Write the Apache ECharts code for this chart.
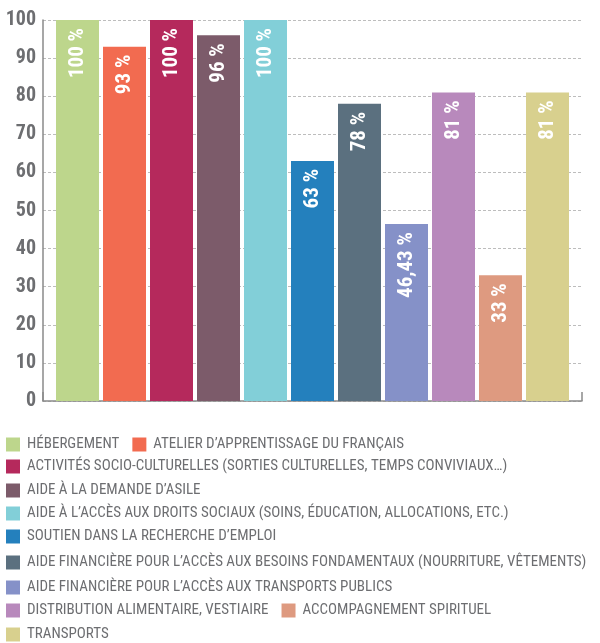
<!DOCTYPE html>
<html>
<head>
<meta charset="utf-8">
<script src="https://cdn.jsdelivr.net/npm/echarts@6/dist/echarts.min.js"></script>
<style>
  html, body { margin: 0; padding: 0; background: #fff; }
  #main { width: 600px; height: 643px; }
</style>
</head>
<body>
<div id="main"></div>
<script>
const categories = [
  'HÉBERGEMENT',
  'ATELIER D’APPRENTISSAGE DU FRANÇAIS',
  'ACTIVITÉS SOCIO-CULTURELLES (SORTIES CULTURELLES, TEMPS CONVIVIAUX…)',
  'AIDE À LA DEMANDE D’ASILE',
  'AIDE À L’ACCÈS AUX DROITS SOCIAUX (SOINS, ÉDUCATION, ALLOCATIONS, ETC.)',
  'SOUTIEN DANS LA RECHERCHE D’EMPLOI',
  'AIDE FINANCIÈRE POUR L’ACCÈS AUX BESOINS FONDAMENTAUX (NOURRITURE, VÊTEMENTS)',
  'AIDE FINANCIÈRE POUR L’ACCÈS AUX TRANSPORTS PUBLICS',
  'DISTRIBUTION ALIMENTAIRE, VESTIAIRE',
  'ACCOMPAGNEMENT SPIRITUEL',
  'TRANSPORTS'
]
const values = [100, 93, 100, 96, 100, 63, 78, 46.43, 81, 33, 81]
const yTicks = [0, 10, 20, 30, 40, 50, 60, 70, 80, 90, 100]

const colors = ['#bdd68c', '#f26b50', '#b5295c', '#7c5b6a', '#82cfd8', '#2480bd',
  '#5b707f', '#8591c8', '#b889bc', '#de9a80', '#d8d08e']

// which categories share a legend line
const legendRows = [[0, 1], [2], [3], [4], [5], [6], [7], [8, 9], [10]]
const legendTops = [437, 459, 483, 506, 529, 555, 580, 603, 627]

const FONT = '"Roboto Condensed", sans-serif'
const GREY = '#6d6e71'

const chart = echarts.init(document.getElementById('main'))

const series = categories.map((name, i) => {
  return {
    name: name,
    type: 'bar',
    xAxisIndex: 1,
    yAxisIndex: 1,
    barWidth: 43,
    barGap: '-100%',
    itemStyle: { color: colors[i] },
    label: {
      show: true,
      position: 'insideTop',
      rotate: 90,
      align: 'right',
      verticalAlign: 'middle',
      distance: 8,
      color: '#fff',
      fontFamily: FONT,
      fontWeight: 'bold',
      fontSize: 21,
      formatter: p => String(p.value).replace('.', ',') + ' %'
    },
    data: values.map((v, j) => (j === i ? v : '-'))
  }
})

const legends = legendRows.map((row, r) => {
  return {
    top: legendTops[r],
    left: 6,
    padding: 0,
    orient: 'horizontal',
    icon: 'rect',
    itemWidth: 14,
    itemHeight: 14,
    itemGap: 13,
    selectedMode: false,
    textStyle: { color: GREY, fontFamily: FONT, fontSize: 15, lineHeight: 14, padding: [0, 0, 0, 2] },
    data: row.map(i => categories[i])
  }
})

const option = {
  animation: false,
  backgroundColor: '#fff',
  grid: [
    { left: 43, right: 18, top: 20, bottom: 242 },
    { left: 54, right: 29, top: 20, bottom: 242 }
  ],
  legend: legends,
  xAxis: [
    {
      gridIndex: 0,
      type: 'value',
      min: 0,
      max: 1,
      interval: 1,
      axisLine: { show: true, lineStyle: { color: '#8a8a8a', width: 1.5 } },
      axisTick: { show: true, inside: true, length: 9, lineStyle: { color: '#8a8a8a', width: 1.5 } },
      axisLabel: { show: false },
      splitLine: { show: false }
    },
    {
      gridIndex: 1,
      type: 'category',
      data: categories,
      show: false
    }
  ],
  yAxis: [
    {
      gridIndex: 0,
      type: 'value',
      min: yTicks[0],
      max: yTicks[yTicks.length - 1],
      interval: 10,
      axisLine: { show: true, lineStyle: { color: '#8a8a8a', width: 1.5 } },
      axisTick: { show: false },
      axisLabel: {
        margin: 7,
        color: GREY,
        fontFamily: FONT,
        fontWeight: 'bold',
        fontSize: 20
      },
      splitLine: { show: true, lineStyle: { color: '#bdbdbd', type: [3, 2], width: 1 } }
    },
    {
      gridIndex: 1,
      type: 'value',
      min: yTicks[0],
      max: yTicks[yTicks.length - 1],
      show: false
    }
  ],
  series: series
}

chart.setOption(option)
</script>
</body>
</html>
